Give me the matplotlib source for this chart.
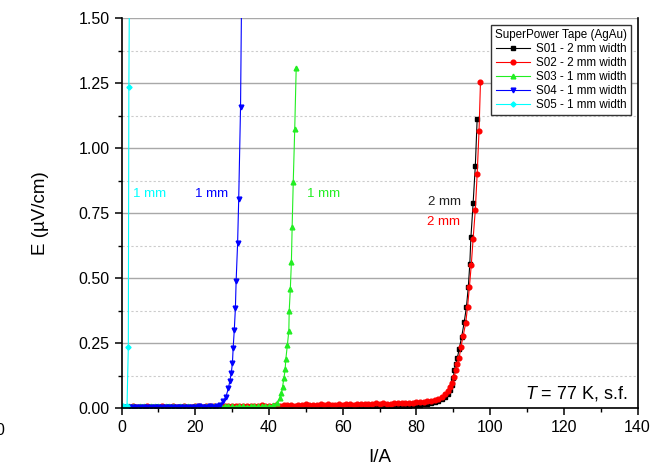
import numpy as np
import matplotlib.pyplot as plt
from matplotlib.ticker import MultipleLocator

plt.rcParams['font.family'] = ['Liberation Sans', 'DejaVu Sans']
plt.rcParams['mathtext.fontset'] = 'custom'
plt.rcParams['mathtext.it'] = 'Liberation Sans:italic'
plt.rcParams['mathtext.rm'] = 'Liberation Sans'

# E-I data, current in A, field in uV/cm
# flat part of each curve, measured every 1 A starting at 0 A
s01_base = [0.003, 0.002, 0.004, 0.003, 0.002, 0.003, 0.004, 0.002, 0.003, 0.003, 0.002,
            0.004, 0.003, 0.002, 0.003, 0.004, 0.003, 0.002, 0.003, 0.004, 0.003,
            0.002, 0.003, 0.004, 0.003, 0.002, 0.003, 0.004, 0.003, 0.002, 0.003,
            0.004, 0.003, 0.003, 0.002, 0.004, 0.003, 0.002, 0.003, 0.004, 0.003, 0.002,
            0.003, 0.004, 0.002, 0.003, 0.004, 0.003, 0.002, 0.004, 0.003, 0.003,
            0.004, 0.002, 0.003, 0.004, 0.003, 0.004, 0.003, 0.005, 0.004, 0.003, 0.005,
            0.004, 0.005, 0.004, 0.006, 0.005, 0.004, 0.006, 0.005, 0.007, 0.006, 0.007,
            0.006, 0.008, 0.007, 0.008, 0.009, 0.010, 0.011, 0.012, 0.014, 0.016, 0.019]
s01_I = [85, 86, 87, 87.8, 88.5, 89.1, 89.6, 90.0, 90.3, 90.7, 91.1, 91.6, 92.3, 93.0,
         93.6, 94.1, 94.5, 94.8, 95.4, 96.0, 96.5]
s01_E = [0.022, 0.027, 0.034, 0.043, 0.055, 0.070, 0.090, 0.115, 0.146, 0.168, 0.191,
         0.226, 0.274, 0.332, 0.390, 0.467, 0.554, 0.656, 0.787, 0.932, 1.112]

s02_base = [0.004, 0.005, 0.003, 0.006, 0.004, 0.005, 0.004, 0.006, 0.005, 0.003, 0.005,
            0.006, 0.004, 0.005, 0.006, 0.004, 0.005, 0.007, 0.005, 0.004, 0.006,
            0.007, 0.005, 0.008, 0.006, 0.007, 0.005, 0.008, 0.006, 0.009, 0.007,
            0.006, 0.008, 0.007, 0.009, 0.006, 0.008, 0.007, 0.010, 0.008, 0.007, 0.009,
            0.011, 0.009, 0.012, 0.010, 0.013, 0.009, 0.012, 0.011, 0.014, 0.010,
            0.013, 0.012, 0.015, 0.011, 0.014, 0.013, 0.012, 0.015, 0.013, 0.016, 0.014,
            0.013, 0.016, 0.015, 0.017, 0.014, 0.016, 0.018, 0.015, 0.019, 0.017, 0.016,
            0.019, 0.018, 0.020, 0.019, 0.021, 0.020, 0.022, 0.024, 0.023, 0.026, 0.028]
s02_I = [85, 86, 87, 87.8, 88.5, 89.1, 89.7, 90.2, 90.7, 91.1, 91.6, 92.1, 92.7, 93.4,
         93.9, 94.4, 94.9, 95.4, 96.0, 96.5, 97.0, 97.4]
s02_E = [0.031, 0.036, 0.043, 0.052, 0.064, 0.079, 0.097, 0.118, 0.145, 0.170, 0.191,
         0.236, 0.277, 0.328, 0.390, 0.467, 0.550, 0.651, 0.763, 0.900, 1.064, 1.254]

s03_base = [0.006, 0.005, 0.007, 0.006, 0.005, 0.006, 0.007, 0.005, 0.006, 0.006, 0.007,
            0.005, 0.006, 0.007, 0.006, 0.005, 0.006, 0.007, 0.006, 0.005, 0.007,
            0.006, 0.005, 0.006, 0.007, 0.006, 0.005, 0.006, 0.007, 0.006, 0.006,
            0.005, 0.007, 0.006, 0.005, 0.006, 0.007, 0.006, 0.006, 0.007, 0.008, 0.010]
s03_I = [42.1, 43.0, 43.4, 43.7, 44.1, 44.4, 44.6, 45.0, 45.4, 45.5, 45.8, 46.1, 46.3,
         46.6, 47.0, 47.4]
s03_E = [0.018, 0.037, 0.056, 0.082, 0.117, 0.149, 0.190, 0.242, 0.296, 0.373, 0.456,
         0.563, 0.697, 0.870, 1.073, 1.309]

s04_base = [0.004, 0.005, 0.004, 0.003, 0.005, 0.004, 0.005, 0.004, 0.003, 0.005, 0.004,
            0.005, 0.004, 0.005, 0.003, 0.004, 0.005, 0.004, 0.005, 0.004, 0.006,
            0.005, 0.004, 0.006, 0.005, 0.007]
s04_I = [26.7, 27.6, 28.35, 29.0, 29.4, 29.8, 30.1, 30.3, 30.6, 30.9, 31.1, 31.5, 31.8,
         32.3, 32.6]
s04_E = [0.012, 0.026, 0.044, 0.076, 0.104, 0.136, 0.174, 0.232, 0.300, 0.383, 0.488,
         0.633, 0.803, 1.159, 1.620]

s05_I = [0.0, 0.5, 1.0, 1.5, 1.85, 2.0, 2.2]
s05_E = [0.005, 0.006, 0.005, 0.008, 0.235, 1.235, 1.750]

series = [
    ('S01 - 2 mm width', np.arange(len(s01_base)), s01_base, s01_I, s01_E, 'black', 's'),
    ('S02 - 2 mm width', np.arange(len(s02_base)), s02_base, s02_I, s02_E, 'red', 'o'),
    ('S03 - 1 mm width', np.arange(len(s03_base)), s03_base, s03_I, s03_E, '#22ee22', '^'),
    ('S04 - 1 mm width', np.arange(1, len(s04_base) + 1), s04_base, s04_I, s04_E, 'blue', 'v'),
    ('S05 - 1 mm width', [], [], s05_I, s05_E, 'cyan', 'D'),
]

fig = plt.figure(figsize=(6.59, 4.68), dpi=100)
ax = fig.add_axes([121.5 / 659, 60 / 468, 516 / 659, 390 / 468])

for name, ib, eb, ir, er, col, mk in series:
    I = np.concatenate([ib, ir])
    E = np.concatenate([eb, er])
    ax.plot(I, E, color=col, lw=0.8, marker=mk, ms=3.4 if mk != 'D' else 2.6,
            mec=col, mfc=col, label=name)

ax.set_xlim(0, 140)
ax.set_ylim(0, 1.5)
ax.xaxis.set_major_locator(MultipleLocator(20))
ax.xaxis.set_minor_locator(MultipleLocator(10))
ax.yaxis.set_major_locator(MultipleLocator(0.25))
ax.yaxis.set_minor_locator(MultipleLocator(0.125))
ax.yaxis.set_major_formatter(plt.FormatStrFormatter('%.2f'))

ax.grid(axis='y', which='major', color='#a8a8a8', lw=1.0)
ax.grid(axis='y', which='minor', color='#cccccc', lw=0.8, ls=(0, (2, 2)))
ax.set_axisbelow(True)

ax.spines['top'].set_visible(False)
for s in ['left', 'bottom', 'right']:
    ax.spines[s].set_linewidth(1.2)
ax.tick_params(which='major', direction='out', length=5, width=1.1, labelsize=11.5,
               top=False, right=False)
ax.tick_params(which='minor', direction='out', length=3, width=1.0, top=False, right=False)

ax.set_xlabel('I/A', fontsize=13.5, labelpad=10)
ax.set_ylabel('E (µV/cm)', fontsize=13.5, labelpad=21)

# width labels next to each curve
ax.text(3.2, 0.823, '1 mm', color='cyan', fontsize=9.5, va='center')
ax.text(19.9, 0.823, '1 mm', color='blue', fontsize=9.5, va='center')
ax.text(50.2, 0.823, '1 mm', color='#22ee22', fontsize=9.5, va='center')
ax.text(83.2, 0.791, '2 mm', color='#222222', fontsize=9.5, va='center')
ax.text(83.0, 0.717, '2 mm', color='red', fontsize=9.5, va='center')

ax.text(0.982, 0.038, '$\\mathit{T}$ = 77 K, s.f.', transform=ax.transAxes,
        fontsize=13, ha='right', va='center')

leg = ax.legend(title='SuperPower Tape (AgAu)', loc='upper right',
                bbox_to_anchor=(0.988, 0.983), fontsize=8.4, title_fontsize=8.4,
                handlelength=2.9, handletextpad=0.5, labelspacing=0.18,
                borderpad=0.35, fancybox=False, framealpha=1, edgecolor='#333333',
                borderaxespad=0)
leg.get_frame().set_linewidth(1.0)

fig.text(0.0, 0.081, '0', fontsize=11.5, ha='center', va='center')

fig.savefig('out.png', dpi=100)
